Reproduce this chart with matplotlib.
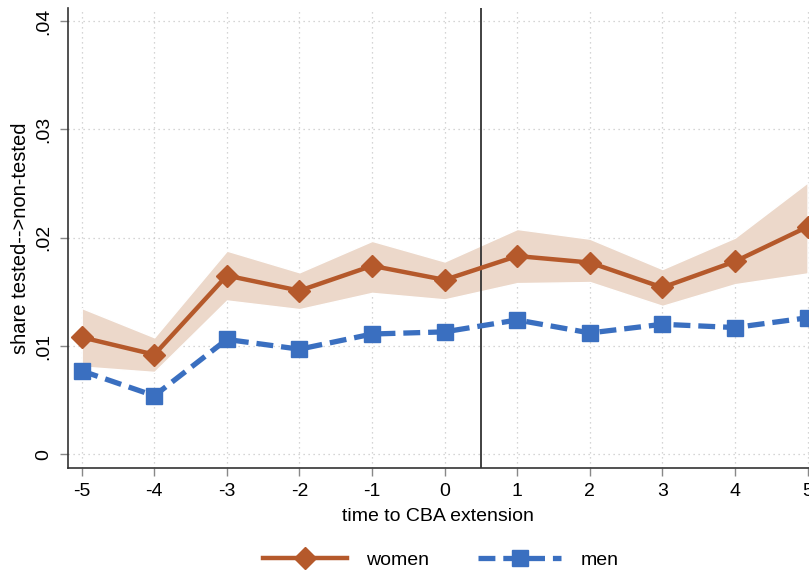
import matplotlib
matplotlib.use("Agg")
import matplotlib.pyplot as plt
import numpy as np

# data
periods = [-5, -4, -3, -2, -1, 0, 1, 2, 3, 4, 5]
women = [0.0108, 0.0092, 0.0165, 0.0151, 0.0174, 0.0161, 0.0183, 0.0177, 0.0154, 0.0178, 0.0210]
women_hi = [0.0135, 0.0108, 0.0188, 0.0168, 0.0197, 0.0178, 0.0208, 0.0199, 0.0171, 0.0200, 0.0251]
women_lo = [0.0081, 0.0076, 0.0142, 0.0134, 0.0149, 0.0143, 0.0158, 0.0159, 0.0137, 0.0157, 0.0167]
men = [0.0077, 0.0054, 0.0106, 0.0097, 0.0111, 0.0113, 0.0124, 0.0112, 0.0120, 0.0117, 0.0126]
yticks = [0, 0.01, 0.02, 0.03, 0.04]
ytick_labels = ["0", ".01", ".02", ".03", ".04"]

plt.rcParams["font.family"] = ["Liberation Sans", "DejaVu Sans"]

fig = plt.figure(figsize=(8.09, 5.73), dpi=100)
ax = fig.add_axes([0.0837, 0.1838, 0.9163, 0.8022])

women_col = "#b5592b"
men_col = "#3a6fc0"

ax.fill_between(periods, women_lo, women_hi, color="#ecd8ca", edgecolor="white",
                linewidth=1.0, zorder=2)
ax.plot(periods, women, color=women_col, lw=3.2, marker="D", markersize=11,
        label="women", zorder=4)
ax.plot(periods, men, color=men_col, lw=3.8, ls=(0, (3.2, 1.5)), marker="s",
        markersize=11, label="men", zorder=4)
ax.axvline(0.5, color="#333333", lw=1.3, zorder=3)

ax.set_xlim(-5.193, 5.02)
ax.set_ylim(-0.00124, 0.0412)
ax.set_xticks(periods)
ax.set_xticklabels([str(p) for p in periods])
ax.set_yticks(yticks)
ax.set_yticklabels(ytick_labels, rotation=90, va="center")

ax.grid(True, ls=(0, (1, 3)), color="#c8c8c8", lw=0.9, zorder=0)
ax.set_axisbelow(True)
for s in ["top", "right"]:
    ax.spines[s].set_visible(False)
for s in ["left", "bottom"]:
    ax.spines[s].set_color("#333333")
    ax.spines[s].set_linewidth(1.2)
ax.tick_params(direction="out", length=6, width=1.0, color="#888888",
               labelsize=14, pad=5)

ax.set_xlabel("time to CBA extension", fontsize=14, labelpad=6)
ax.set_ylabel("share tested-->non-tested", fontsize=14.5, labelpad=4)

fig.legend(loc="center", bbox_to_anchor=(0.545, 0.022), ncol=2, frameon=False,
           fontsize=14, handlelength=4.3, columnspacing=2.5, handletextpad=1.0)

fig.savefig("out.png", dpi=100)
